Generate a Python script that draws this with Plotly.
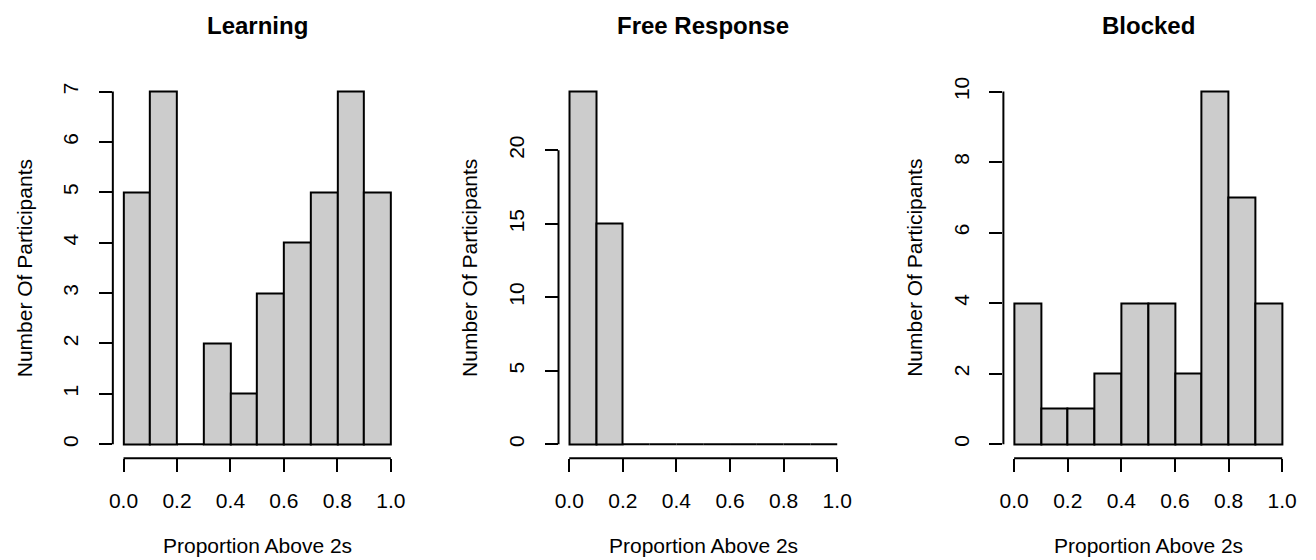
import plotly.graph_objects as go

# ---- data ----
panel_titles = ["Learning", "Free Response", "Blocked"]
bin_edges = [0.0, 0.1, 0.2, 0.3, 0.4, 0.5, 0.6, 0.7, 0.8, 0.9, 1.0]
learning_counts = [5, 7, 0, 2, 1, 3, 4, 5, 7, 5]
free_response_counts = [24, 15, 0, 0, 0, 0, 0, 0, 0, 0]
blocked_counts = [4, 1, 1, 2, 4, 4, 2, 10, 7, 4]
x_ticks = [0.0, 0.2, 0.4, 0.6, 0.8, 1.0]
x_tick_labels = ["0.0", "0.2", "0.4", "0.6", "0.8", "1.0"]
learning_yticks = [0, 1, 2, 3, 4, 5, 6, 7]
free_response_yticks = [0, 5, 10, 15, 20]
blocked_yticks = [0, 2, 4, 6, 8, 10]
x_label = "Proportion Above 2s"
y_label = "Number Of Participants"

counts_list = [learning_counts, free_response_counts, blocked_counts]
yticks_list = [learning_yticks, free_response_yticks, blocked_yticks]

# ---- layout geometry (pixels) ----
W, H = 1316, 560
panel_x = [(109.5, 400.0), (557.9, 849.1), (1005.5, 1296.8)]
plot_top, plot_bottom = 76.6, 458.1
FONT = "Liberation Sans, Arial, Helvetica, sans-serif"
LW = 2
FS = 21

fig = go.Figure()
layout = dict(
    width=W, height=H,
    margin=dict(l=0, r=0, t=0, b=0),
    paper_bgcolor="white", plot_bgcolor="white",
    showlegend=False,
    bargap=0,
    font=dict(family=FONT, size=FS, color="black"),
)
shapes = []
annotations = []

widths = [bin_edges[i + 1] - bin_edges[i] for i in range(len(bin_edges) - 1)]
lefts = bin_edges[:-1]

for i, (counts, yticks, title) in enumerate(zip(counts_list, yticks_list, panel_titles)):
    n = i + 1
    xa = "x" if n == 1 else f"x{n}"
    ya = "y" if n == 1 else f"y{n}"
    xkey = "xaxis" if n == 1 else f"xaxis{n}"
    ykey = "yaxis" if n == 1 else f"yaxis{n}"

    xs = [l for l, c in zip(lefts, counts) if c > 0]
    ws = [w for w, c in zip(widths, counts) if c > 0]
    cs = [c for c in counts if c > 0]
    fig.add_trace(go.Bar(
        x=xs, y=cs, width=ws, offset=0,
        marker=dict(color="#CCCCCC", line=dict(color="black", width=LW)),
        xaxis=xa, yaxis=ya, hoverinfo="skip",
    ))
    # zero-count bins are drawn as flat rectangles on the baseline
    zx = []
    for l, w, c in zip(lefts, widths, counts):
        if c == 0:
            zx += [l, l + w, None]
    if zx:
        fig.add_trace(go.Scatter(
            x=zx, y=[0 if v is not None else None for v in zx],
            mode="lines", line=dict(color="black", width=LW),
            xaxis=xa, yaxis=ya, hoverinfo="skip", cliponaxis=False,
        ))

    ymax = max(counts)
    x0p, x1p = panel_x[i]
    layout[xkey] = dict(
        domain=[x0p / W, x1p / W],
        anchor=ya,
        range=[bin_edges[0] - 0.04 * (bin_edges[-1] - bin_edges[0]),
               bin_edges[-1] + 0.04 * (bin_edges[-1] - bin_edges[0])],
        tickmode="array", tickvals=x_ticks, ticktext=x_tick_labels,
        ticks="outside", ticklen=13, tickwidth=LW, tickcolor="black",
        showline=False, showgrid=False, zeroline=False,
        tickfont=dict(family=FONT, size=FS, color="black"),
        ticklabelstandoff=11,
        fixedrange=True,
    )
    layout[ykey] = dict(
        domain=[(H - plot_bottom) / H, (H - plot_top) / H],
        anchor=xa,
        range=[-0.04 * ymax, 1.04 * ymax],
        tickmode="array", tickvals=yticks, ticktext=[str(t) for t in yticks],
        ticks="outside", ticklen=13, tickwidth=LW, tickcolor="black",
        tickangle=-90,
        showline=False, showgrid=False, zeroline=False,
        tickfont=dict(family=FONT, size=FS, color="black"),
        ticklabelstandoff=12,
        fixedrange=True,
    )
    # axis lines spanning the tick range (R style)
    shapes.append(dict(type="line", xref=xa, yref=f"{ya} domain",
                       x0=x_ticks[0], x1=x_ticks[-1], y0=0, y1=0,
                       line=dict(color="black", width=LW)))
    shapes.append(dict(type="line", xref=f"{xa} domain", yref=ya,
                       x0=0, x1=0, y0=yticks[0], y1=yticks[-1],
                       line=dict(color="black", width=LW)))
    cx = (x0p + x1p) / 2 / W
    annotations.append(dict(text=f"<b>{title}</b>", xref="paper", yref="paper",
                            x=cx, y=(H - 25) / H, xanchor="center", yanchor="middle",
                            showarrow=False, font=dict(family=FONT, size=24, color="black")))
    annotations.append(dict(text=x_label, xref="paper", yref="paper",
                            x=cx, y=(H - 545) / H, xanchor="center", yanchor="middle",
                            showarrow=False, font=dict(family=FONT, size=FS, color="black")))
    annotations.append(dict(text=y_label, xref="paper", yref="paper",
                            x=(x0p - 89) / W, y=(H - (plot_top + plot_bottom) / 2) / H,
                            xanchor="center", yanchor="middle", textangle=-90,
                            showarrow=False, font=dict(family=FONT, size=FS, color="black")))

layout["shapes"] = shapes
layout["annotations"] = annotations
fig.update_layout(**layout)
fig.write_html("out.html")
